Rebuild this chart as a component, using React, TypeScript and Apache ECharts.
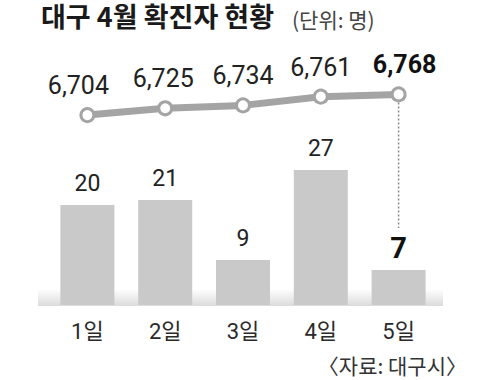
import React, { useEffect, useRef } from "react";
import * as echarts from "echarts";

const categories = ["1일", "2일", "3일", "4일", "5일"];
const dailyCases = [20, 21, 9, 27, 7];
const cumulative = [6704, 6725, 6734, 6761, 6768];
const titleText = "대구 4월 확진자 현황";
const unitText = "(단위: 명)";
const sourceText = "〈자료: 대구시〉";

const NUM_FONT = "Roboto, 'Noto Sans CJK KR', sans-serif";
const KR_FONT = "'Noto Sans CJK KR', Roboto, sans-serif";

export default function App() {
  const ref = useRef<HTMLDivElement>(null);

  useEffect(() => {
    if (!ref.current) return;
    const chart = echarts.init(ref.current, undefined, { renderer: "svg" });
    const last = categories.length - 1;
    const lineOffsets = [[-9, 0], [-2, 0], [0, 0], [0, 0], [6, 0]];

    const option: any = {
      animation: false,
      backgroundColor: "#ffffff",
      grid: { left: 48.5, right: 42.5, top: 55, bottom: 75 },
      xAxis: {
        type: "category",
        data: categories,
        axisLine: { show: false },
        axisTick: { show: false },
        axisLabel: {
          margin: 15,
          fontSize: 22,
          color: "#2a2a2a",
          fontFamily: NUM_FONT,
        },
      },
      yAxis: [
        { type: "value", min: 0, max: 50, show: false },
        { type: "value", min: 6116, max: 6890, show: false },
      ],
      graphic: [
        {
          type: "rect",
          z: 0,
          shape: { x: 38, y: 289, width: 405, height: 17 },
          style: {
            fill: new echarts.graphic.LinearGradient(0, 0, 0, 1, [
              { offset: 0, color: "rgba(215,215,215,0)" },
              { offset: 1, color: "rgba(215,215,215,0.9)" },
            ]),
          },
        },
        {
          type: "text",
          left: 41,
          top: 2,
          style: {
            text: titleText,
            fontSize: 27,
            fontWeight: "bold",
            fill: "#1a1a1a",
            fontFamily: KR_FONT,
          },
        },
        {
          type: "text",
          left: 292,
          top: 8,
          style: {
            text: unitText,
            fontSize: 21,
            fill: "#444444",
            fontFamily: KR_FONT,
          },
        },
        {
          type: "text",
          right: 13,
          top: 354,
          style: {
            text: sourceText,
            fontSize: 21,
            fill: "#333333",
            fontFamily: KR_FONT,
          },
        },
      ],
      series: [
        {
          type: "bar",
          yAxisIndex: 0,
          barWidth: 54,
          itemStyle: { color: "#c9c9c9" },
          data: dailyCases.map((v, i) =>
            i === last
              ? { value: v, label: { fontWeight: "bold", fontSize: 29, color: "#111", distance: 8 } }
              : v
          ),
          label: {
            show: true,
            position: "top",
            distance: 10,
            fontSize: 23,
            color: "#222222",
            fontFamily: NUM_FONT,
          },
        },
        {
          type: "line",
          yAxisIndex: 1,
          z: 5,
          symbol: "circle",
          symbolSize: 13,
          lineStyle: { color: "#a4a4a4", width: 7 },
          itemStyle: { color: "#ffffff", borderColor: "#a4a4a4", borderWidth: 3 },
          data: cumulative.map((v, i) => ({
            value: v,
            label: {
              offset: lineOffsets[i],
              ...(i === last ? { fontWeight: "bold", fontSize: 25, color: "#111" } : {}),
            },
          })),
          label: {
            show: true,
            position: "top",
            distance: 9,
            fontSize: 25,
            color: "#222222",
            fontFamily: NUM_FONT,
            formatter: (p: any) => Number(p.value).toLocaleString("en-US"),
          },
        },
      ],
    };

    chart.setOption(option);

    const top = chart.convertToPixel({ seriesIndex: 1 }, [last, cumulative[last]]) as number[];
    const barTop = chart.convertToPixel({ seriesIndex: 0 }, [last, dailyCases[last]]) as number[];
    chart.setOption({
      graphic: [
        ...option.graphic,
        {
          type: "line",
          z: 1,
          shape: { x1: top[0], y1: top[1] + 8, x2: top[0], y2: barTop[1] - 42 },
          style: { stroke: "#8a8a8a", lineWidth: 1.5, lineDash: [2, 2] },
        },
      ],
    });

    return () => chart.dispose();
  }, []);

  return (
    <div
      ref={ref}
      style={{ position: "absolute", left: 0, top: 0, width: 480, height: 380 }}
    />
  );
}
